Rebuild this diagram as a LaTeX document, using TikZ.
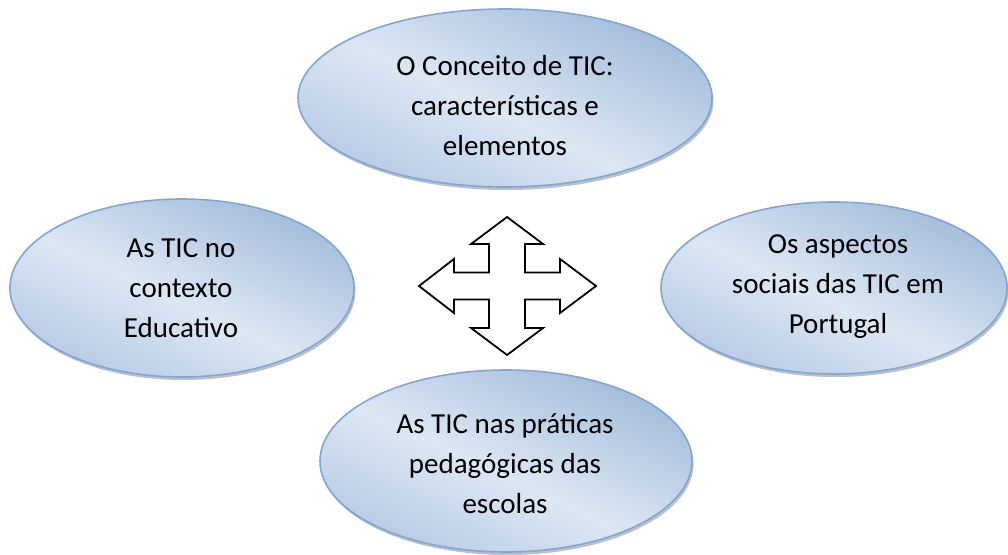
\documentclass[tikz,border=0pt]{standalone}
\usepackage{fontspec}
\setmainfont{Carlito}
\usetikzlibrary{shapes.geometric,shadows}
\definecolor{bubM}{HTML}{B7CBE5}
\definecolor{bubL}{HTML}{DDE7F3}
\definecolor{bubD}{HTML}{A3BCDC}
\definecolor{bubLine}{HTML}{7FA6D6}
\pgfdeclareverticalshading{bubbleshade}{100bp}{color(0bp)=(bubM); color(25bp)=(bubM); color(47bp)=(bubL); color(75bp)=(bubD); color(100bp)=(bubD)}
\tikzset{
  bubble/.style={ellipse, draw=bubLine, line width=1.6pt, shading=bubbleshade, shading angle=-25,
    drop shadow={shadow xshift=1.5pt, shadow yshift=-3pt, fill=black!55, opacity=0.45}},
  btext/.style={align=center, inner sep=0pt, font=\fontsize{29}{40}\selectfont, text=black},
  quad/.style={draw=black, line width=1.8pt, fill=white, line join=miter}
}
\begin{document}
\begin{tikzpicture}[x=1pt,y=-1pt]
\useasboundingbox (0,0) rectangle (1008,554);
% ellipses
\node[bubble, minimum width=414pt, minimum height=178pt] (top) at (505,98) {};
\node[bubble, minimum width=344pt, minimum height=178pt] (left) at (182,288) {};
\node[bubble, minimum width=346pt, minimum height=172pt] (right) at (834,288) {};
\node[bubble, minimum width=372pt, minimum height=182pt] (bottom) at (506,461) {};
% texts
\node[btext] (toptext) at (505,107) {\strut O Conceito de TIC:\\\strut características e\\\strut elementos};
\node[btext] (lefttext) at (181,289) {\strut As TIC no\\\strut contexto\\\strut Educativo};
\node[btext] (righttext) at (838,285) {\strut Os aspectos\\\strut sociais das TIC em\\\strut Portugal};
\node[btext] (bottomtext) at (505,465) {\strut As TIC nas práticas\\\strut pedagógicas das\\\strut escolas};
% four-way arrow
\coordinate (qc) at (507,286);
\draw[quad] (507,217) -- (543,244) -- (525,244) -- (525,272.5) -- (560,272.5) -- (560,259) -- (596,286)
  -- (560,313) -- (560,299.5) -- (525,299.5) -- (525,328) -- (543,328) -- (507,355) -- (471,328)
  -- (489,328) -- (489,299.5) -- (454,299.5) -- (454,313) -- (419,286) -- (454,259) -- (454,272.5)
  -- (489,272.5) -- (489,244) -- (471,244) -- cycle;
\end{tikzpicture}
\end{document}
